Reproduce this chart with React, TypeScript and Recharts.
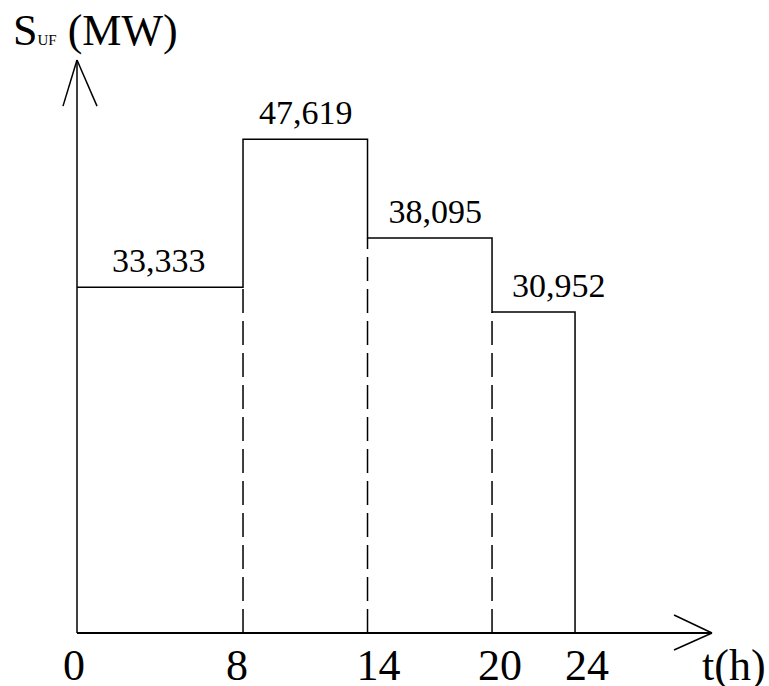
import React from "react";
import {
  ComposedChart,
  Line,
  XAxis,
  YAxis,
  ReferenceLine,
  LabelList,
} from "recharts";

// load schedule: S_UF per time interval
const hours = [0, 8, 14, 20, 24];
const loads = [33.333, 47.619, 38.095, 30.952];
const loadLabels = ["33,333", "47,619", "38,095", "30,952"];
const xTicks = [0, 8, 14, 20, 24];

const X_MAX = 30.6;
const Y_MAX = 55.25;

const FONT = "Liberation Serif, Times New Roman, serif";
const INK = "#000";

// step line: each interval level, then drop back to zero at the end
const stepData = [
  ...loads.map((s, i) => ({ t: hours[i], s })),
  { t: hours[hours.length - 1], s: loads[loads.length - 1] },
  { t: hours[hours.length - 1], s: 0 },
];

// text nudges, hand-placed in the original drawing
const labelDx = [35, 16, 21, 20];
const tickDx: Record<number, number> = { 0: -3, 8: -6, 14: 11, 20: 8, 24: 12 };

function TimeTick(props: any) {
  const { x, y, payload } = props;
  return (
    <text
      x={x + (tickDx[payload.value] ?? 0)}
      y={y}
      dy={47}
      textAnchor="middle"
      style={{ fontFamily: FONT, fontSize: 44 }}
      fill={INK}
    >
      {payload.value}
    </text>
  );
}

function LoadLabel(props: any) {
  const { x, y, index } = props;
  if (index >= loadLabels.length) return null;
  return (
    <text
      x={x + labelDx[index]}
      y={y - 15}
      textAnchor="start"
      style={{ fontFamily: FONT, fontSize: 34 }}
      fill={INK}
    >
      {loadLabels[index]}
    </text>
  );
}

export default function App() {
  // dashed drop lines under each step change
  const dropLines = hours.slice(1, -1).map((t, i) => ({
    t,
    top: Math.min(loads[i], loads[i + 1]),
  }));

  return (
    <div style={{ position: "absolute", left: 0, top: 0, background: "#fff" }}>
      <ComposedChart
        width={769}
        height={686}
        data={stepData}
        margin={{ top: 60, right: 57, bottom: 0, left: 76 }}
      >
        <XAxis
          dataKey="t"
          type="number"
          domain={[0, X_MAX]}
          ticks={xTicks}
          tick={<TimeTick />}
          tickLine={false}
          tickSize={0}
          tickMargin={0}
          height={53}
          axisLine={{ stroke: INK, strokeWidth: 2 }}
          label={{
            content: () => (
              <text
                x={702}
                y={680}
                style={{ fontFamily: FONT, fontSize: 44 }}
                fill={INK}
              >
                t(h)
              </text>
            ),
          }}
        />
        <YAxis
          type="number"
          domain={[0, Y_MAX]}
          width={1}
          tick={false}
          tickLine={false}
          axisLine={{ stroke: INK, strokeWidth: 1.5 }}
          label={{
            content: () => (
              <text x={13} y={45} style={{ fontFamily: FONT }} fill={INK}>
                <tspan style={{ fontSize: 44 }}>S</tspan>
                <tspan style={{ fontSize: 15 }}>UF</tspan>
                <tspan style={{ fontSize: 44 }}> (MW)</tspan>
              </text>
            ),
          }}
        />

        {dropLines.map((d) => (
          <ReferenceLine
            key={d.t}
            segment={[
              { x: d.t, y: 0 },
              { x: d.t, y: d.top },
            ]}
            stroke={INK}
            strokeWidth={1.5}
            strokeDasharray="24 8"
            ifOverflow="visible"
          />
        ))}

        {/* arrow heads */}
        <ReferenceLine
          segment={[
            { x: -0.675, y: 50.8 },
            { x: 0, y: Y_MAX },
          ]}
          stroke={INK}
          strokeWidth={1.5}
          ifOverflow="visible"
        />
        <ReferenceLine
          segment={[
            { x: 0.964, y: 50.8 },
            { x: 0, y: Y_MAX },
          ]}
          stroke={INK}
          strokeWidth={1.5}
          ifOverflow="visible"
        />
        <ReferenceLine
          segment={[
            { x: 28.77, y: 1.74 },
            { x: X_MAX, y: 0 },
          ]}
          stroke={INK}
          strokeWidth={1.5}
          ifOverflow="visible"
        />
        <ReferenceLine
          segment={[
            { x: 28.77, y: -1.64 },
            { x: X_MAX, y: 0 },
          ]}
          stroke={INK}
          strokeWidth={1.5}
          ifOverflow="visible"
        />

        <Line
          dataKey="s"
          type="stepAfter"
          stroke={INK}
          strokeWidth={1.5}
          dot={false}
          activeDot={false}
          isAnimationActive={false}
        >
          <LabelList dataKey="s" content={<LoadLabel />} />
        </Line>
      </ComposedChart>
    </div>
  );
}
